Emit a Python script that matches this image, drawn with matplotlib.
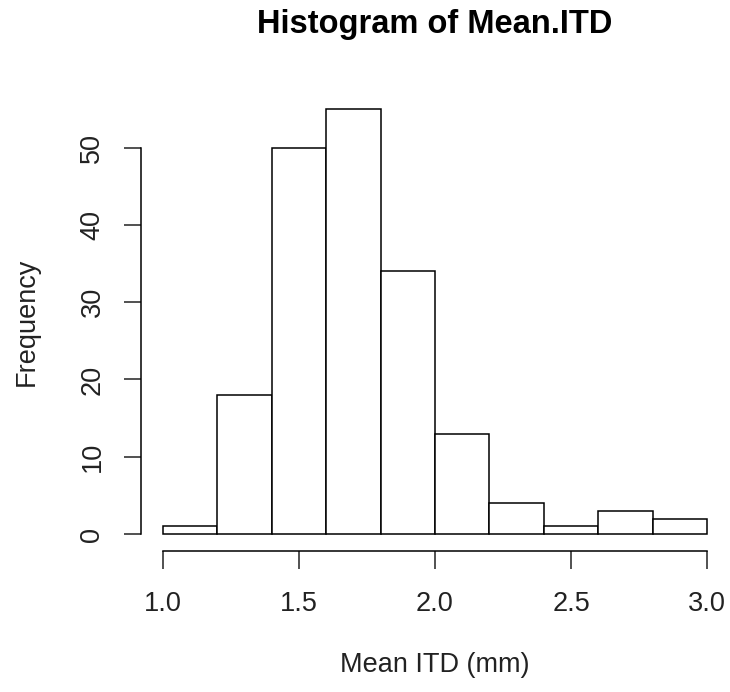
import numpy as np
import matplotlib
matplotlib.use('Agg')
import matplotlib.pyplot as plt

plt.rcParams['font.family'] = ['Liberation Sans', 'DejaVu Sans']

# bin edges and counts
bin_edges = [1.0, 1.2, 1.4, 1.6, 1.8, 2.0, 2.2, 2.4, 2.6, 2.8, 3.0]
counts = [1, 18, 50, 55, 34, 13, 4, 1, 3, 2]
x_ticks = [1.0, 1.5, 2.0, 2.5, 3.0]
y_ticks = [0, 10, 20, 30, 40, 50]

W, H = 730, 692
fig = plt.figure(figsize=(W / 100, H / 100), dpi=100)
# plot region in pixels: left 141, right 729, top 92, bottom 551
ax = fig.add_axes([141 / W, 1 - 551 / H, (729 - 141) / W, (551 - 92) / H])

edges = np.array(bin_edges)
ax.bar(edges[:-1], counts, width=np.diff(edges), align='edge',
       color='white', edgecolor='black', linewidth=1.1)

ax.set_xlim(0.92, 3.08)
ax.set_ylim(-2.2, 57.2)

for s in ['top', 'right']:
    ax.spines[s].set_visible(False)
ax.spines['left'].set_bounds(0, 50)
ax.spines['bottom'].set_bounds(1.0, 3.0)
for s in ['left', 'bottom']:
    ax.spines[s].set_linewidth(1.1)

ax.set_xticks(x_ticks)
ax.set_xticklabels([f'{v:.1f}' for v in x_ticks])
ax.set_yticks(y_ticks)
ax.set_yticklabels([str(v) for v in y_ticks], rotation=90, va='center')
ax.tick_params(axis='both', length=12.6, width=1.1, labelsize=19.5,
               direction='out', colors='#222222', labelcolor='#222222')
ax.tick_params(axis='x', pad=16)
ax.tick_params(axis='y', pad=13)

fig.text(435 / W, 1 - 25 / H, 'Histogram of Mean.ITD', ha='center', va='center',
         fontsize=23.5, fontweight='bold')
fig.text(435 / W, 1 - 665 / H, 'Mean ITD (mm)', ha='center', va='center',
         fontsize=19.5, color='#222222')
fig.text(27 / W, 1 - 322 / H, 'Frequency', ha='center', va='center', fontsize=19.5,
         rotation=90, color='#222222')

fig.savefig('out.png', dpi=100)
